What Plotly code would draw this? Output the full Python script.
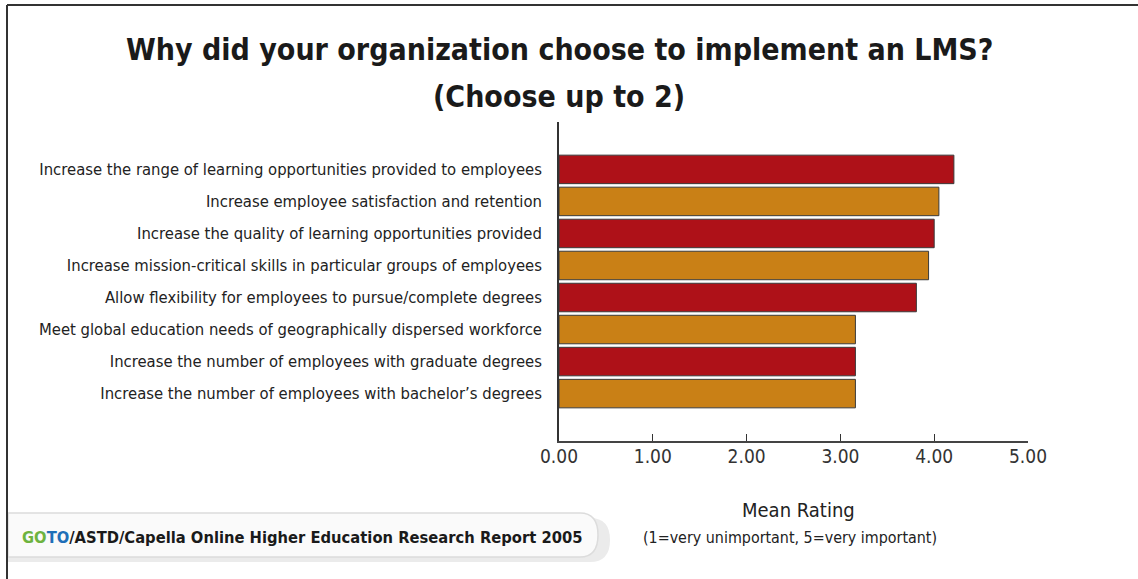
import plotly.graph_objects as go

categories = [
    "Increase the range of learning opportunities provided to employees",
    "Increase employee satisfaction and retention",
    "Increase the quality of learning opportunities provided",
    "Increase mission-critical skills in particular groups of employees",
    "Allow flexibility for employees to pursue/complete degrees",
    "Meet global education needs of geographically dispersed workforce",
    "Increase the number of employees with graduate degrees",
    "Increase the number of employees with bachelor\u2019s degrees",
]
values = [4.21, 4.05, 4.00, 3.94, 3.81, 3.16, 3.16, 3.16]
tick_vals = [0, 1, 2, 3, 4, 5]
tick_text = ["0.00", "1.00", "2.00", "3.00", "4.00", "5.00"]
title_lines = ["Why did your organization choose to implement an LMS?", "(Choose up to 2)"]

RED = "#AE1118"
ORANGE = "#C98016"
bar_colors = [RED if i % 2 == 0 else ORANGE for i in range(len(categories))]

NARROW = "DejaVu Sans Condensed, Liberation Sans Narrow, Arial Narrow, sans-serif"

W, H = 1138, 579
L, R, T, B = 559, 110, 122, 138

fig = go.Figure()
fig.add_trace(go.Bar(
    x=values, y=categories, orientation="h",
    marker=dict(color=bar_colors, line=dict(color="#3a3a3a", width=1)),
    width=0.89,
    hoverinfo="x+y",
))

fig.update_layout(
    width=W, height=H,
    margin=dict(l=L, r=R, t=T, b=B, pad=0, autoexpand=False),
    paper_bgcolor="white", plot_bgcolor="white",
    showlegend=False,
    font=dict(family=NARROW, color="#222222"),
    xaxis=dict(
        range=[0, 5], tickvals=tick_vals, ticktext=tick_text,
        ticks="inside", ticklen=7, tickwidth=1.2, tickcolor="#333333",
        showline=True, linecolor="#444444", linewidth=1.5,
        showgrid=False, zeroline=False, automargin=False,
        ticklabelstandoff=-3,
        tickfont=dict(size=19, color="#333333", family=NARROW),
        fixedrange=True,
    ),
    yaxis=dict(
        type="category",
        categoryorder="array", categoryarray=categories,
        range=[len(categories) - 1 + 1.48, -1.48],
        showline=True, linecolor="#333333", linewidth=1.5,
        showgrid=False, zeroline=False, ticks="", automargin=False,
        ticklabelstandoff=12,
        tickfont=dict(size=16.5, color="#222222", family=NARROW),
        fixedrange=True,
    ),
)

def px(xp):
    return (xp - L) / (W - L - R)

def py(yp):
    return 1 - (yp - T) / (H - T - B)

# Title (two lines, placed separately for line spacing)
for line, yc in zip(title_lines, [50, 97]):
    fig.add_annotation(
        xref="paper", yref="paper",
        x=px(559), y=py(yc),
        xanchor="center", yanchor="middle",
        text=f"<b>{line}</b>",
        showarrow=False, align="center",
        font=dict(size=30, color="#1a1a1a", family=NARROW),
    )

fig.add_annotation(
    xref="paper", yref="paper", x=px(798), y=py(510),
    xanchor="center", yanchor="middle", showarrow=False,
    text="Mean Rating", font=dict(size=20, color="#222222", family=NARROW),
)
fig.add_annotation(
    xref="paper", yref="paper", x=px(790), y=py(537),
    xanchor="center", yanchor="middle", showarrow=False,
    text="(1=very unimportant, 5=very important)",
    font=dict(size=15.9, color="#222222", family=NARROW),
)

# Footer pill (shadow + body)
fig.add_shape(type="path", xref="paper", yref="paper",
              path=f"M {px(8)},{py(518)} L {px(590)},{py(518)} Q {px(610)},{py(518)} {px(610)},{py(540)} Q {px(610)},{py(562)} {px(590)},{py(562)} L {px(8)},{py(562)} Z",
              fillcolor="#ebebeb", line=dict(width=0), layer="below")
fig.add_shape(type="path", xref="paper", yref="paper",
              path=f"M {px(8)},{py(513)} L {px(580)},{py(513)} Q {px(598)},{py(513)} {px(598)},{py(535)} Q {px(598)},{py(557)} {px(580)},{py(557)} L {px(8)},{py(557)} Z",
              fillcolor="#fafafa", line=dict(color="#dcdcdc", width=1.5), layer="below")
fig.add_annotation(
    xref="paper", yref="paper", x=px(20), y=py(537),
    xanchor="left", yanchor="middle", showarrow=False,
    text="<b><span style='color:#6DB33F'>GO</span><span style='color:#1F6FB8'>TO</span>/ASTD/Capella Online Higher Education Research Report 2005</b>",
    font=dict(size=16.4, color="#1a1a1a", family=NARROW),
)

# Frame lines (top and left)
fig.add_shape(type="line", xref="paper", yref="paper",
              x0=px(7), x1=px(1138), y0=py(5), y1=py(5),
              line=dict(color="#333333", width=2))
fig.add_shape(type="line", xref="paper", yref="paper",
              x0=px(7), x1=px(7), y0=py(5), y1=py(579),
              line=dict(color="#333333", width=2))

fig.write_html("out.html", config={"displayModeBar": False})
